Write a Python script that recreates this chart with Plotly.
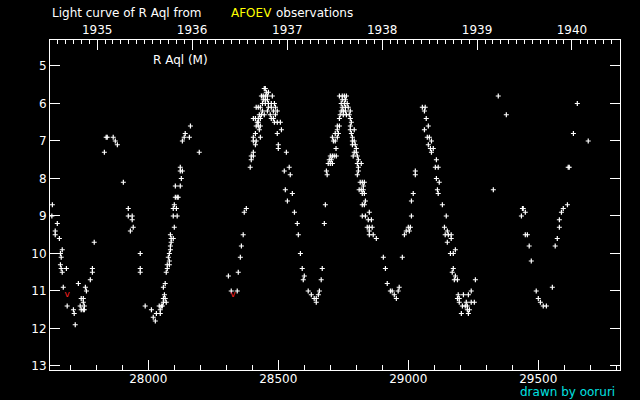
import plotly.graph_objects as go
from datetime import datetime, timedelta

# Julian Day - 2400000 and visual magnitude
jd = [
    27631, 27629, 27650, 27642, 27642, 27658, 27669, 27662, 27665, 27662, 27665, 27669, 27685, 27673,
    27688, 27712, 27715, 27719, 27731, 27758, 27762, 27742, 27750, 27750, 27738, 27754, 27742, 27750,
    27754, 27777, 27785, 27785, 27792, 27831, 27838, 27842, 27865, 27873, 27881, 27904, 27923, 27923,
    27938, 27938, 27942, 27931, 27969, 27969, 27969, 27988, 28012, 28019, 28027, 28031, 28046, 28042,
    28050, 28054, 28046, 28058, 28065, 28062, 28058, 28065, 28058, 28069, 28069, 28073, 28081, 28073,
    28081, 28077, 28081, 28085, 28085, 28088, 28088, 28096, 28085, 28100, 28096, 28111, 28096, 28108,
    28100, 28104, 28111, 28115, 28104, 28123, 28127, 28123, 28123, 28131, 28162, 28142, 28138, 28158,
    28131, 28196,
    28308, 28319, 28342, 28346, 28354, 28358, 28365, 28369, 28377,
    28446, 28450, 28454, 28462, 28435, 28442, 28450, 28458, 28477, 28442, 28450, 28458,
    28439, 28450, 28462, 28473, 28485, 28415, 28423, 28431, 28462, 28473, 28489,
    28439, 28458, 28481, 28496, 28427, 28435, 28446, 28469, 28489,
    28404, 28412, 28423, 28431, 28473, 28481, 28419, 28423, 28485, 28496, 28508,
    28415, 28423, 28431, 28427, 28512, 28412, 28496, 28404, 28431, 28404, 28415,
    28412, 28500, 28500, 28404, 28531, 28396, 28404, 28396, 28392, 28542, 28523, 28546,
    28527, 28554, 28535, 28562, 28573, 28577, 28585, 28592, 28600, 28596, 28615, 28627,
    28638, 28646, 28654, 28658, 28646, 28665, 28669,
    28677, 28681, 28685, 28688, 28692, 28700, 28708, 28696, 28704, 28700, 28708, 28715, 28723,
    28722, 28712, 28719, 28708, 28727, 28719, 28731, 28727, 28727, 28735, 28735,
    28735, 28746, 28754, 28762, 28746, 28758, 28742, 28754, 28765, 28746, 28758, 28769,
    28742, 28750, 28758, 28777, 28738, 28750, 28762, 28773, 28777,
    28781, 28777, 28777, 28792, 28781, 28785, 28785, 28792, 28785, 28796, 28800, 28792, 28800,
    28788, 28804, 28808, 28804, 28819, 28808, 28808, 28804,
    28815, 28823, 28831, 28827, 28811, 28819, 28827, 28823, 28831, 28835, 28823, 28831, 28850,
    28823, 28835, 28846, 28858, 28842, 28850, 28861, 28850, 28850, 28865, 28877,
    28904, 28912, 28919, 28931, 28938, 28961, 28965, 28946, 28954,
    28977, 28985, 28992, 29004, 29000, 29008, 29012, 29012, 29019, 29027, 29027,
    29054, 29065, 29062, 29069, 29077, 29062, 29073, 29081, 29089, 29077, 29085, 29096, 29089,
    29108, 29104, 29115, 29108, 29119, 29112, 29115, 29131, 29146, 29139, 29150, 29142, 29154,
    29165, 29165, 29150, 29181, 29162, 29173, 29173, 29169, 29181, 29177, 29189, 29258, 29242,
    29192, 29212, 29231, 29189, 29196, 29196, 29223, 29242, 29254, 29208, 29219, 29227, 29227,
    29235, 29204, 29231,
    29346, 29377, 29327, 29439, 29442, 29450, 29435, 29450, 29458, 29465, 29473, 29492, 29500,
    29508, 29519, 29531, 29554, 29565, 29573, 29581, 29581, 29589, 29596, 29612, 29615, 29619,
    29635, 29650, 29692, 29821,
]
mag = [
    8.7, 9.0, 9.2, 9.4, 9.5, 9.6, 9.9, 10.0, 10.1, 10.3, 10.4, 10.5, 10.4, 10.9,
    11.4, 11.5, 11.6, 11.9, 10.8, 10.9, 11.0, 11.2, 11.2, 11.3, 11.4, 11.4, 11.5, 11.5,
    11.5, 10.7, 10.4, 10.5, 9.7, 7.3, 6.9, 6.9, 6.9, 7.0, 7.1, 8.1, 8.8, 9.0,
    9.0, 9.1, 9.3, 9.4, 10.0, 10.4, 10.5, 11.4, 11.5, 11.7, 11.8, 11.6, 11.6, 11.4,
    11.4, 11.4, 11.5, 10.9, 10.8, 11.1, 11.2, 11.2, 11.3, 11.3, 10.5, 10.4, 10.3, 10.3,
    10.2, 10.1, 10.0, 9.9, 9.8, 9.7, 9.6, 9.6, 9.5, 9.3, 9.0, 9.0, 8.8, 8.8,
    8.7, 8.5, 8.5, 8.5, 8.2, 8.2, 8.0, 7.7, 7.8, 7.8, 6.6, 6.8, 6.9, 6.9,
    7.0, 7.3,
    10.6, 11.0, 11.0, 10.5, 10.1, 9.8, 9.5, 8.9, 8.8,
    5.6, 5.6, 5.7, 5.7, 5.8, 5.8, 5.8, 5.8, 5.8, 5.9, 5.9, 5.9,
    6.0, 6.0, 6.0, 6.0, 6.0, 6.1, 6.1, 6.1, 6.1, 6.1, 6.1,
    6.2, 6.2, 6.2, 6.2, 6.3, 6.3, 6.3, 6.3, 6.3,
    6.4, 6.4, 6.4, 6.4, 6.4, 6.4, 6.5, 6.5, 6.5, 6.5, 6.5,
    6.6, 6.6, 6.6, 6.7, 6.7, 6.8, 6.8, 6.9, 6.9, 7.0, 7.0,
    7.1, 7.1, 7.2, 7.3, 7.3, 7.4, 7.4, 7.5, 7.7, 7.7, 7.8, 7.9,
    8.3, 8.4, 8.6, 8.9, 9.2, 9.5, 10.0, 10.4, 10.6, 10.7, 11.0, 11.1,
    11.2, 11.2, 11.1, 11.0, 11.3, 10.7, 10.4,
    9.2, 8.7, 7.8, 7.9, 7.6, 7.6, 7.6, 7.5, 7.5, 7.4, 7.4, 7.4, 7.4,
    7.2, 7.0, 7.0, 6.9, 6.9, 6.8, 6.8, 6.7, 6.6, 6.6, 6.4,
    5.8, 5.8, 5.8, 5.8, 5.9, 5.9, 6.0, 6.0, 6.0, 6.1, 6.1, 6.1,
    6.2, 6.2, 6.2, 6.2, 6.3, 6.3, 6.3, 6.3, 6.4,
    6.5, 6.6, 6.7, 6.7, 6.8, 6.9, 7.0, 7.0, 7.1, 7.1, 7.2, 7.3, 7.3,
    7.4, 7.4, 7.5, 7.6, 7.6, 7.7, 7.8, 7.9,
    8.1, 8.1, 8.1, 8.2, 8.3, 8.3, 8.3, 8.4, 8.4, 8.6, 8.7, 8.7, 8.9,
    9.0, 9.0, 9.1, 9.1, 9.3, 9.3, 9.3, 9.4, 9.5, 9.5, 9.6,
    10.1, 10.4, 10.8, 11.0, 11.0, 11.0, 10.9, 11.1, 11.2,
    10.1, 9.5, 9.4, 9.4, 9.3, 9.3, 9.0, 8.6, 8.4, 7.8, 7.9,
    6.1, 6.1, 6.2, 6.4, 6.6, 6.7, 6.9, 6.9, 7.0, 7.1, 7.2, 7.2, 7.3,
    7.5, 7.7, 7.7, 8.0, 8.1, 8.3, 8.4, 8.7, 9.0, 9.3, 9.4, 9.5, 9.5,
    9.5, 9.6, 9.7, 9.9, 10.0, 10.0, 10.4, 10.5, 10.6, 10.7, 10.7, 10.7, 11.0,
    11.1, 11.1, 11.1, 11.2, 11.2, 11.3, 11.3, 11.3, 11.3, 11.4, 11.4, 11.4, 11.5,
    11.5, 11.6, 11.6,
    5.8, 6.3, 8.3, 8.8, 8.8, 8.9, 9.0, 9.5, 9.5, 9.8, 10.2, 11.0, 11.2,
    11.3, 11.4, 11.4, 10.9, 9.8, 9.6, 9.3, 9.1, 8.9, 8.8, 8.7, 7.7, 7.7,
    6.8, 6.0, 7.0, 11.5,
]

# "fainter than" estimates
limit_jd = [27688, 28325]
limit_mag = [11.1, 11.1]

x_range = [27621.9, 29814.2]
y_range = [13.107, 4.307]


def jd_to_date(j):
    return datetime(1970, 1, 1) + timedelta(days=(j + 2400000 - 2440587.5))


FONT = "DejaVu Sans"

fig = go.Figure()
fig.add_trace(go.Scatter(
    x=jd, y=mag, mode="markers",
    marker=dict(symbol="cross-thin", size=3.6, line=dict(color="white", width=1.2), color="white"),
    hoverinfo="skip", cliponaxis=False, showlegend=False,
))
fig.add_trace(go.Scatter(
    x=limit_jd, y=limit_mag, mode="text", text=["v"] * len(limit_jd),
    textfont=dict(color="#ff2020", size=9, family=FONT),
    hoverinfo="skip", showlegend=False,
))
# invisible trace to attach the calendar (top) axis
d0, d1 = jd_to_date(x_range[0]), jd_to_date(x_range[1])
fig.add_trace(go.Scatter(
    x=[d0, d1], y=[y_range[0], y_range[0]], xaxis="x2", mode="markers",
    marker=dict(opacity=0), hoverinfo="skip", showlegend=False,
))

fig.update_layout(
    width=640, height=400,
    margin=dict(l=50, r=20, t=40, b=30, autoexpand=False),
    paper_bgcolor="black", plot_bgcolor="black",
    font=dict(family=FONT, size=12, color="white"),
    showlegend=False,
    xaxis=dict(
        range=x_range, showgrid=False, zeroline=False, automargin=False,
        showline=True, linecolor="white", linewidth=1, mirror=True,
        ticks="inside", ticklen=10, tickcolor="white", tickwidth=1,
        tick0=28000, dtick=500, tickformat="d", ticklabelstandoff=-2,
        minor=dict(dtick=100, ticks="inside", ticklen=5, tickcolor="white", tickwidth=1),
        tickfont=dict(size=12, color="white", family=FONT),
    ),
    xaxis2=dict(
        type="date", overlaying="x", side="top", automargin=False,
        range=[d0, d1], showgrid=False, zeroline=False, showline=False,
        ticks="inside", ticklen=10, tickcolor="white", tickwidth=1,
        tick0="1935-01-01", dtick="M12", tickformat="%Y", ticklabelstandoff=3,
        minor=dict(dtick="M1", tick0="1935-01-01", ticks="inside", ticklen=4,
                   tickcolor="white", tickwidth=1),
        tickfont=dict(size=12, color="white", family=FONT),
    ),
    yaxis=dict(
        range=y_range, showgrid=False, zeroline=False, automargin=False,
        showline=True, linecolor="white", linewidth=1, mirror="ticks",
        ticks="inside", ticklen=10, tickcolor="white", tickwidth=1,
        tick0=5, dtick=1,
        tickfont=dict(size=12, color="white", family=FONT),
    ),
    annotations=[
        dict(text="Light curve of R Aql from", x=0.0, y=1.083, xref="paper", yref="paper",
             xanchor="left", yanchor="middle", showarrow=False,
             font=dict(color="white", size=12, family=FONT)),
        dict(text="AFOEV", x=0.314, y=1.083, xref="paper", yref="paper",
             xanchor="left", yanchor="middle", showarrow=False,
             font=dict(color="#ffff00", size=12, family=FONT)),
        dict(text="observations", x=0.393, y=1.083, xref="paper", yref="paper",
             xanchor="left", yanchor="middle", showarrow=False,
             font=dict(color="white", size=12, family=FONT)),
        dict(text="R Aql (M)", x=0.1765, y=0.938, xref="paper", yref="paper",
             xanchor="left", yanchor="middle", showarrow=False,
             font=dict(color="white", size=12, family=FONT)),
        dict(text="drawn by ooruri", x=0.9947, y=-0.066, xref="paper", yref="paper",
             xanchor="right", yanchor="middle", showarrow=False,
             font=dict(color="#00e0e0", size=12, family=FONT)),
    ],
)

fig.write_html(
    "out.html",
    config={"displayModeBar": False},
    post_script="document.body.style.margin='0';document.body.style.background='black';",
)
